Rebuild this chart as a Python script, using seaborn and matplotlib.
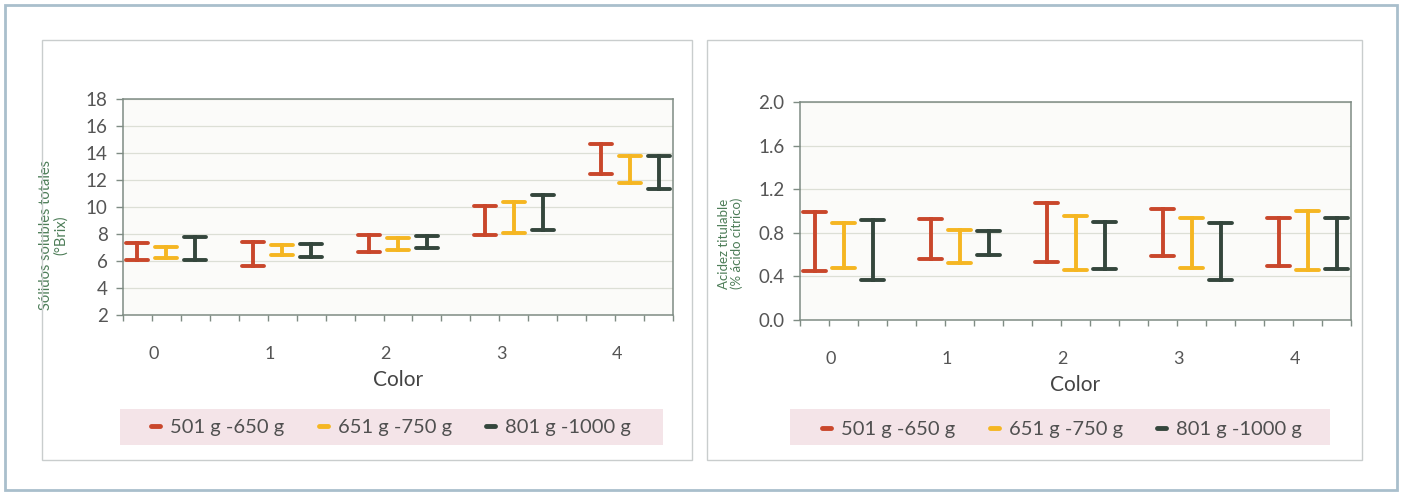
import numpy as np
import pandas as pd
import seaborn as sns
import matplotlib.pyplot as plt
from matplotlib.patches import Rectangle
from matplotlib.lines import Line2D

colores = ["0", "1", "2", "3", "4"]
grupos = ["501 g -650 g", "651 g -750 g", "801 g -1000 g"]
paleta = ["#c9472b", "#f5b622", "#34463c"]

# rangos (min, max) de cada color, por grupo de peso
brix_501 = [(6.05, 7.35), (5.6, 7.4), (6.7, 7.9), (7.95, 10.05), (12.45, 14.7)]
brix_651 = [(6.25, 7.05), (6.45, 7.15), (6.85, 7.7), (8.1, 10.4), (11.8, 13.8)]
brix_801 = [(6.1, 7.8), (6.3, 7.25), (7.0, 7.85), (8.3, 10.9), (11.35, 13.8)]

acidez_501 = [(0.45, 0.99), (0.56, 0.93), (0.53, 1.07), (0.59, 1.02), (0.50, 0.94)]
acidez_651 = [(0.48, 0.89), (0.52, 0.83), (0.46, 0.95), (0.48, 0.94), (0.46, 1.00)]
acidez_801 = [(0.37, 0.92), (0.60, 0.82), (0.47, 0.90), (0.37, 0.89), (0.47, 0.94)]

sns.set_style("white")
plt.rcParams['font.family'] = ['Lato', 'DejaVu Sans']

gris = "#555555"
verde = "#4d7d58"
eje = "#7f8c84"


def tabla(rangos_por_grupo):
    filas = []
    for grupo, rangos in zip(grupos, rangos_por_grupo):
        for color, (lo, hi) in zip(colores, rangos):
            filas.append((color, grupo, lo))
            filas.append((color, grupo, hi))
    return pd.DataFrame(filas, columns=["Color", "Peso", "valor"])


def panel(ax, df, ylim, yticks, fmt, ylabel, ylabel_size, label_xy):
    sns.pointplot(data=df, x="Color", y="valor", hue="Peso", order=colores,
                  hue_order=grupos, palette=paleta, dodge=0.5,
                  errorbar=("pi", 100), capsize=0.19, linestyle="none",
                  marker="", err_kws={"linewidth": 2.8}, legend=False, ax=ax)
    ax.set_facecolor("#fbfbf9")
    ax.set_xlim(-0.375, 4.375)
    ax.set_ylim(*ylim)
    ax.set_yticks(yticks)
    ax.set_yticklabels([fmt.format(v) for v in yticks], fontsize=13.5, color=gris)
    ax.set_xticks(np.arange(5) - 0.11)
    ax.set_xticklabels(colores, fontsize=13, color=gris)
    ax.set_xticks(np.arange(-0.375, 4.4, 0.25), minor=True)
    ax.tick_params(axis="x", which="major", length=0, pad=22, bottom=True)
    ax.tick_params(axis="x", which="minor", length=4, width=1, color=eje,
                   direction="out", bottom=True)
    ax.tick_params(axis="y", length=5, width=1, color=eje, direction="out", pad=6, left=True)
    ax.yaxis.grid(True, color="#dcdfd6", linewidth=0.9)
    ax.set_axisbelow(True)
    for s in ax.spines.values():
        s.set_visible(True)
        s.set_color(eje)
        s.set_linewidth(1.1)
    ax.set_xlabel("Color", fontsize=15, color="#444444", labelpad=6)
    ax.set_ylabel(ylabel, fontsize=ylabel_size, color=verde, linespacing=1.1)
    ax.yaxis.set_label_coords(*label_xy)


fig = plt.figure(figsize=(14.05, 4.94), dpi=100)

# marcos
fig.patches.append(Rectangle((5 / 1405, 1 - 490 / 494), 1392 / 1405, 485 / 494,
                             transform=fig.transFigure, fill=False,
                             edgecolor="#a9bfcc", linewidth=2))
for x0, x1 in [(42, 692), (707, 1362)]:
    fig.patches.append(Rectangle((x0 / 1405, 1 - 460 / 494), (x1 - x0) / 1405, 420 / 494,
                                 transform=fig.transFigure, fill=False,
                                 edgecolor="#c9cdcd", linewidth=1))
for x0, x1 in [(120, 663), (790, 1330)]:
    fig.patches.append(Rectangle((x0 / 1405, 1 - 445 / 494), (x1 - x0) / 1405, 36 / 494,
                                 transform=fig.transFigure, facecolor="#f4e4e8",
                                 edgecolor="none"))

ax1 = fig.add_axes([123 / 1405, 1 - 315 / 494, 550 / 1405, 216 / 494])
panel(ax1, tabla([brix_501, brix_651, brix_801]), (2, 18), np.arange(2, 19, 2),
      "{:.0f}", "Sólidos solubles totales\n(°Brix)", 10.5, (-0.1, 0.37))

ax2 = fig.add_axes([800 / 1405, 1 - 320 / 494, 551 / 1405, 218 / 494])
panel(ax2, tabla([acidez_501, acidez_651, acidez_801]), (0, 2.0), np.arange(0, 2.01, 0.4),
      "{:.1f}", "Acidez titulable\n(% ácido cítrico)", 9.5, (-0.103, 0.35))

handles = [Line2D([], [], color=c, linewidth=3.5) for c in paleta]
for cx, cy in [(391, 427), (1062, 429)]:
    fig.legend(handles, grupos, loc="center", bbox_to_anchor=(cx / 1405, 1 - cy / 494),
               ncol=3, frameon=False, handlelength=0.45, handletextpad=0.5,
               columnspacing=1.7, fontsize=14.5, labelcolor="#505050")

fig.savefig("out.png", dpi=100)
